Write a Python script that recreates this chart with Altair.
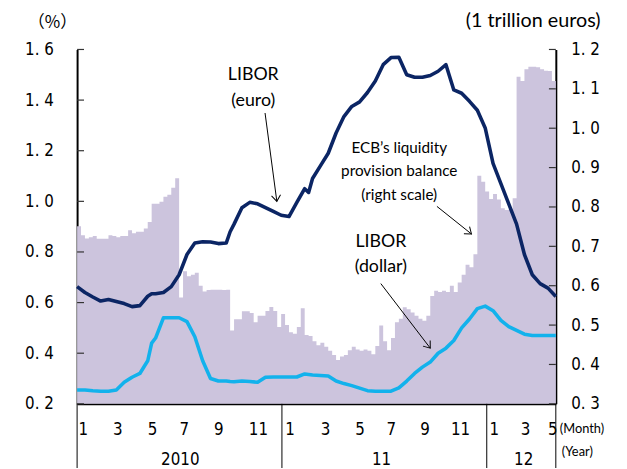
import math
import altair as alt
import pandas as pd

# ---------------- data ----------------
# ECB liquidity provision balance (1 trillion euros), weekly, Jan 2010 - May 2012
ecb_balance = [
    0.751, 0.728, 0.720, 0.723, 0.726, 0.719, 0.719, 0.719, 0.728, 0.726,
    0.723, 0.726, 0.726, 0.741, 0.733, 0.737, 0.737, 0.745, 0.762, 0.808,
    0.808, 0.813, 0.826, 0.831, 0.849, 0.873, 0.570, 0.637, 0.624, 0.628,
    0.633, 0.600, 0.585, 0.589, 0.590, 0.590, 0.590, 0.589, 0.590, 0.486,
    0.515, 0.515, 0.535, 0.535, 0.531, 0.507, 0.524, 0.524, 0.536, 0.546,
    0.536, 0.495, 0.528, 0.500, 0.482, 0.478, 0.495, 0.543, 0.475, 0.472,
    0.459, 0.449, 0.455, 0.445, 0.435, 0.424, 0.411, 0.420, 0.424, 0.436,
    0.445, 0.438, 0.435, 0.438, 0.435, 0.426, 0.447, 0.499, 0.459, 0.436,
    0.467, 0.507, 0.516, 0.545, 0.540, 0.532, 0.524, 0.516, 0.511, 0.524,
    0.574, 0.587, 0.584, 0.587, 0.584, 0.600, 0.584, 0.608, 0.628, 0.653,
    0.647, 0.680, 0.879, 0.864, 0.839, 0.820, 0.833, 0.819, 0.797, 0.792,
    0.795, 0.822, 1.131, 1.120, 1.150, 1.156, 1.156, 1.155, 1.150, 1.146,
    1.145, 1.120,
]
n_weeks = len(ecb_balance)

# LIBOR (%), read at these week positions
line_weeks = [0, 2, 4, 6, 8, 10, 12, 14, 16, 18, 19,
              20, 22, 24, 26, 28, 30, 32, 34, 36, 38, 39,
              40, 42, 44, 46, 48, 50, 52, 54, 56, 58, 59,
              60, 62, 64, 66, 68, 70, 72, 74, 76, 78,
              80, 82, 84, 86, 88, 90, 92, 94, 96, 98,
              100, 102, 104, 106, 108, 110, 112, 114, 116, 118,
              120, 122]
libor_euro = [0.663, 0.640, 0.622, 0.606, 0.612, 0.604, 0.596, 0.584, 0.588, 0.625, 0.635,
              0.635, 0.640, 0.663, 0.710, 0.790, 0.835, 0.840, 0.839, 0.833, 0.835, 0.880,
              0.910, 0.975, 0.996, 0.990, 0.975, 0.960, 0.945, 0.940, 0.996, 1.050, 1.035,
              1.090, 1.140, 1.190, 1.270, 1.335, 1.375, 1.393, 1.430, 1.475, 1.540,
              1.568, 1.569, 1.500, 1.490, 1.490, 1.497, 1.514, 1.540, 1.440, 1.427,
              1.395, 1.360, 1.290, 1.150, 1.070, 0.990, 0.910, 0.790, 0.710, 0.675,
              0.657, 0.624]
libor_dollar = [0.255, 0.255, 0.252, 0.250, 0.250, 0.255, 0.285, 0.305, 0.320, 0.370, 0.440,
                0.460, 0.540, 0.540, 0.540, 0.525, 0.465, 0.370, 0.300, 0.290, 0.290, 0.288,
                0.287, 0.290, 0.288, 0.285, 0.305, 0.306, 0.306, 0.306, 0.306, 0.318, 0.316,
                0.314, 0.312, 0.310, 0.290, 0.280, 0.272, 0.262, 0.252, 0.250, 0.250,
                0.250, 0.263, 0.290, 0.320, 0.345, 0.365, 0.400, 0.420, 0.450, 0.500,
                0.535, 0.576, 0.586, 0.568, 0.530, 0.505, 0.490, 0.475, 0.470, 0.470,
                0.470, 0.470]

left_ticks = [0.2, 0.4, 0.6, 0.8, 1.0, 1.2, 1.4, 1.6]
right_ticks = [0.3, 0.4, 0.5, 0.6, 0.7, 0.8, 0.9, 1.0, 1.1, 1.2]

month_label_text = ["1", "3", "5", "7", "9", "11", "1", "3", "5", "7", "9", "11", "1", "3", "5"]
month_label_week = [1.6, 10.4, 19.2, 27.3, 36.1, 46.2, 54.3, 63.3, 72.1, 80.1, 88.7, 97.7, 106.3, 114.3, 121.2]
year_label_text = ["2010", "11", "12"]
year_label_week = [26.3, 77.6, 113.8]
year_bounds = [0, 52.2, 104.4, n_weeks]

ann_libor = ["LIBOR", "(euro)", "LIBOR", "(dollar)"]
ann_libor_w = [44.9, 44.9, 77.4, 77.4]
ann_libor_v = [1.498, 1.396, 0.839, 0.741]
ann_ecb = ["ECB\u2019s liquidity", "provision balance", "(right scale)"]
ann_ecb_w = [82.1, 82.1, 82.1]
ann_ecb_v = [1.212, 1.118, 1.024]
arrow_from_w = [47.9, 91.7, 77.4]
arrow_from_v = [1.349, 0.980, 0.675]
arrow_to_w = [50.9, 100.5, 90.0]
arrow_to_v = [1.000, 0.871, 0.420]

# ---------------- styling ----------------
W, H = 485, 359
BAR = "#CCC4DD"
NAVY = "#0B2564"
SKY = "#12B2EC"
NUMF = "DejaVu Sans Condensed"
TXTF = "Lato"

xs = alt.Scale(domain=[0, n_weeks], nice=False, zero=False)
yl = alt.Scale(domain=[0.2, 1.6], nice=False, zero=False)
yr = alt.Scale(domain=[0.3, 1.2], nice=False, zero=False)

xax = alt.Axis(domain=True, domainColor="black", domainWidth=2, ticks=False,
               labels=False, grid=False, title=None)
lax = alt.Axis(orient="left", values=left_ticks, tickSize=0, domainColor="black",
               domainWidth=2, labelPadding=24, labelFontSize=17, labelFont=NUMF,
               labelColor="black", grid=False, title=None,
               labelExpr="replace(format(datum.value, '.1f'), '.', '. ')")
rax = alt.Axis(orient="right", values=right_ticks, tickSize=0, domainColor="black",
               domainWidth=2, labelPadding=15, labelFontSize=17, labelFont=NUMF,
               labelColor="black", grid=False, title=None,
               labelExpr="replace(format(datum.value, '.1f'), '.', '. ')")

# ---------------- right-scale group ----------------
# weekly balance drawn as a stepped area (one step per week; last step closed at the axis end)
bal_df = pd.DataFrame({"w": list(range(n_weeks + 1)),
                       "v": ecb_balance + [ecb_balance[-1]]})
bars = alt.Chart(bal_df).mark_area(color=BAR, interpolate="step-after", opacity=1).encode(
    x=alt.X("w:Q", scale=xs, axis=xax),
    y=alt.Y("v:Q", scale=yr, axis=rax),
    y2=alt.datum(0.3),
)
rticks = alt.Chart(pd.DataFrame({"t": right_ticks})).mark_rule(color="#333", strokeWidth=1.2).encode(
    y=alt.Y("t:Q", scale=yr, axis=rax),
    x=alt.value(W - 7), x2=alt.value(W),
)
right_group = alt.layer(bars, rticks)

# ---------------- left-scale group ----------------
lines_df = pd.DataFrame({"w": line_weeks, "euro": libor_euro, "dollar": libor_dollar})
euro = alt.Chart(lines_df).mark_line(color=NAVY, strokeWidth=3.6, strokeJoin="round").encode(
    x=alt.X("w:Q", scale=xs, axis=xax),
    y=alt.Y("euro:Q", scale=yl, axis=lax),
)
dollar = alt.Chart(lines_df).mark_line(color=SKY, strokeWidth=3.6, strokeJoin="round").encode(
    x=alt.X("w:Q", scale=xs, axis=xax),
    y=alt.Y("dollar:Q", scale=yl, axis=lax),
)
lticks = alt.Chart(pd.DataFrame({"t": left_ticks})).mark_rule(color="#333", strokeWidth=1.2).encode(
    y=alt.Y("t:Q", scale=yl, axis=lax),
    x=alt.value(0), x2=alt.value(7),
)

lib_df = pd.DataFrame({"w": ann_libor_w, "v": ann_libor_v, "t": ann_libor})
lib_txt = alt.Chart(lib_df).mark_text(font=TXTF, fontSize=18, color="black").encode(
    x=alt.X("w:Q", scale=xs, axis=xax), y=alt.Y("v:Q", scale=yl, axis=lax), text="t:N")
ecb_df = pd.DataFrame({"w": ann_ecb_w, "v": ann_ecb_v, "t": ann_ecb})
ecb_txt = alt.Chart(ecb_df).mark_text(font=TXTF, fontSize=15.5, color="black").encode(
    x=alt.X("w:Q", scale=xs, axis=xax), y=alt.Y("v:Q", scale=yl, axis=lax), text="t:N")

px_w = W / n_weeks
px_v = H / 1.4
arr_df = pd.DataFrame({"w1": arrow_from_w, "v1": arrow_from_v, "w2": arrow_to_w, "v2": arrow_to_v})
arr_df["ang"] = [
    math.degrees(math.atan2((a - b) * px_v, (d - c) * px_w)) % 360
    for a, b, c, d in zip(arr_df.v1, arr_df.v2, arr_df.w1, arr_df.w2)
]
arr_lines = alt.Chart(arr_df).mark_rule(color="black", strokeWidth=1).encode(
    x=alt.X("w1:Q", scale=xs, axis=xax), x2="w2:Q",
    y=alt.Y("v1:Q", scale=yl, axis=lax), y2="v2:Q")
arr_heads = alt.Chart(arr_df).mark_point(
    shape="M -1 -0.75 L 0 0 L -1 0.75", filled=False, color="black",
    strokeWidth=1, size=150, opacity=1).encode(
    x=alt.X("w2:Q", scale=xs, axis=xax), y=alt.Y("v2:Q", scale=yl, axis=lax),
    angle=alt.Angle("ang:Q", scale=None))

# bottom category axis (months / years) with year separators
mon_df = pd.DataFrame({"w": month_label_week, "t": month_label_text})
mon_txt = alt.Chart(mon_df).mark_text(font=NUMF, fontSize=17, color="black", baseline="middle").encode(
    x=alt.X("w:Q", scale=xs, axis=xax), y=alt.value(H + 27), text="t:N")
yr_df = pd.DataFrame({"w": year_label_week, "t": year_label_text})
yr_txt = alt.Chart(yr_df).mark_text(font=NUMF, fontSize=17, color="black", baseline="middle").encode(
    x=alt.X("w:Q", scale=xs, axis=xax), y=alt.value(H + 57), text="t:N")
sep = alt.Chart(pd.DataFrame({"w": year_bounds})).mark_rule(color="black", strokeWidth=1).encode(
    x=alt.X("w:Q", scale=xs, axis=xax), y=alt.value(H), y2=alt.value(H + 70))

t_pct = alt.Chart(pd.DataFrame({"t": ["\uff08%\uff09"]})).mark_text(
    font="Noto Sans CJK JP", fontSize=17, color="black").encode(
    x=alt.value(-25), y=alt.value(-27), text="t:N")
t_unit = alt.Chart(pd.DataFrame({"t": ["(1 trillion euros)"]})).mark_text(
    font=TXTF, fontSize=20, color="black").encode(
    x=alt.value(462), y=alt.value(-29), text="t:N")
t_month = alt.Chart(pd.DataFrame({"t": ["(Month)"]})).mark_text(
    font=TXTF, fontSize=13, color="black", align="left").encode(
    x=alt.value(489), y=alt.value(H + 26), text="t:N")
t_year = alt.Chart(pd.DataFrame({"t": ["(Year)"]})).mark_text(
    font=TXTF, fontSize=13, color="black", align="left").encode(
    x=alt.value(491), y=alt.value(H + 49), text="t:N")

left_group = alt.layer(euro, dollar, lticks, lib_txt, ecb_txt, arr_lines, arr_heads,
                       mon_txt, yr_txt, sep, t_pct, t_unit, t_month, t_year)

chart = alt.layer(right_group, left_group).resolve_scale(y="independent").properties(
    width=W, height=H,
    autosize=alt.AutoSizeParams(type="none"),
    padding={"left": 70, "top": 39, "right": 64, "bottom": 62},
).configure_view(stroke=None).configure_axis(grid=False)

chart.save("out.html", embed_options={"renderer": "svg", "actions": False})
